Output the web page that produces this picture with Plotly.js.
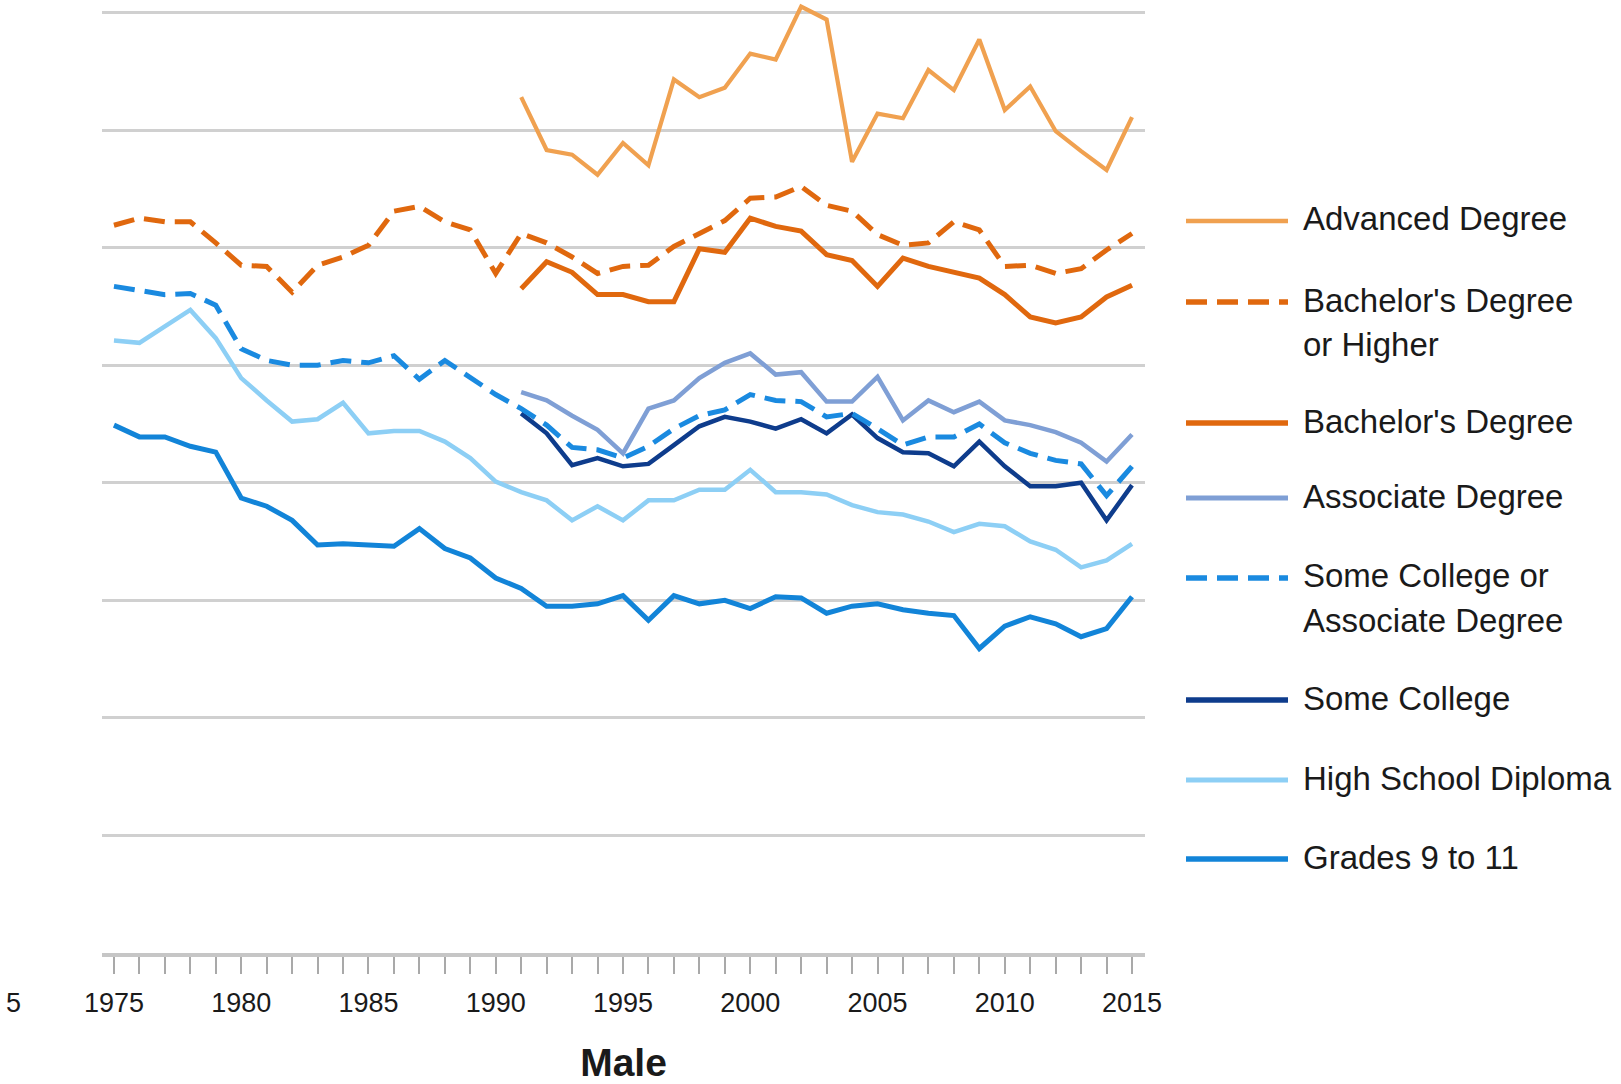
<!DOCTYPE html>
<html>
<head>
<meta charset="utf-8">
<script src="https://cdn.plot.ly/plotly-3.0.1.min.js"></script>
<style>
  html, body { margin: 0; padding: 0; background: #ffffff; }
  #chart { width: 1621px; height: 1084px; }
</style>
</head>
<body>
<div id="chart"></div>
<script>
// ---------------- DATA (median earnings, thousands) ----------------
const yearsAll = [1975,1976,1977,1978,1979,1980,1981,1982,1983,1984,1985,1986,1987,1988,1989,1990,
  1991,1992,1993,1994,1995,1996,1997,1998,1999,2000,2001,2002,2003,2004,2005,2006,2007,2008,2009,2010,
  2011,2012,2013,2014,2015];
const yearsLate = [1991,1992,1993,1994,1995,1996,1997,1998,1999,2000,2001,2002,2003,2004,2005,2006,
  2007,2008,2009,2010,2011,2012,2013,2014,2015];

const advancedDegree = [72.8,68.3,67.9,66.2,68.9,67.0,74.3,72.8,73.6,76.5,76.0,80.5,79.4,67.3,71.4,71.0,
  75.1,73.4,77.7,71.7,73.7,69.9,68.2,66.6,71.1];
const bachelorsOrHigher = [61.9,62.5,62.2,62.2,60.4,58.5,58.4,56.2,58.5,59.2,60.2,63.1,63.5,62.2,61.5,57.8,
  61.2,60.4,59.2,57.8,58.4,58.5,60.1,61.2,62.3,64.2,64.3,65.2,63.6,63.1,61.1,60.2,60.4,62.2,61.5,58.4,
  58.5,57.8,58.2,59.8,61.2];
const bachelorsDegree = [56.5,58.8,57.9,56.0,56.0,55.4,55.4,59.9,59.6,62.5,61.8,61.4,59.4,58.9,56.7,59.1,
  58.4,57.9,57.4,56.0,54.1,53.6,54.1,55.8,56.8];
const associateDegree = [47.7,47.0,45.7,44.5,42.5,46.3,47.0,48.9,50.2,51.0,49.2,49.4,46.9,46.9,49.0,45.3,
  47.0,46.0,46.9,45.3,44.9,44.3,43.4,41.8,44.1];
const someCollegeOrAssociate = [56.7,56.4,56.0,56.1,55.1,51.4,50.4,50.0,50.0,50.4,50.2,50.8,48.8,50.4,48.9,47.5,
  46.3,44.9,43.0,42.8,42.1,43.1,44.6,45.7,46.2,47.5,47.0,46.9,45.6,45.9,44.6,43.2,43.9,43.9,45.0,43.4,
  42.5,41.9,41.6,38.9,41.4];
const someCollege = [45.9,44.2,41.5,42.1,41.4,41.6,43.2,44.8,45.6,45.2,44.6,45.4,44.2,45.8,43.8,42.6,
  42.5,41.4,43.5,41.4,39.7,39.7,40.0,36.8,39.8];
const highSchoolDiploma = [52.1,51.9,53.3,54.7,52.3,48.9,47.0,45.2,45.4,46.8,44.2,44.4,44.4,43.5,42.1,40.1,
  39.2,38.5,36.8,38.0,36.8,38.5,38.5,39.4,39.4,41.1,39.2,39.2,39.0,38.1,37.5,37.3,36.7,35.8,36.5,36.3,
  35.0,34.3,32.8,33.4,34.8];
const grades9to11 = [44.9,43.9,43.9,43.1,42.6,38.7,38.0,36.8,34.7,34.8,34.7,34.6,36.1,34.4,33.6,31.9,
  31.0,29.5,29.5,29.7,30.4,28.3,30.4,29.7,30.0,29.3,30.3,30.2,28.9,29.5,29.7,29.2,28.9,28.7,25.9,27.8,
  28.6,28.0,26.9,27.6,30.3];

const tickYears = [1975,1980,1985,1990,1995,2000,2005,2010,2015];
const tickLabels = ['1975','1980','1985','1990','1995','2000','2005','2010','2015'];
const xAxisTitle = 'Male';
const neighbourLabelFragment = '5';

// ---------------- STYLE ----------------
const SANS = '"Liberation Sans", Arial, sans-serif';
const C = {
  adv: '#F0A150', boh: '#E0680E', bach: '#E0680E', assoc: '#7F9FD5',
  scoa: '#1A8AE0', sc: '#0E3C8C', hs: '#8DCFF5', g911: '#1284D8'
};
const DASH = '21px,10px';

const series = [
  {name: 'Grades 9 to 11', x: yearsAll, y: grades9to11, color: C.g911, width: 5, dash: 'solid'},
  {name: 'High School Diploma', x: yearsAll, y: highSchoolDiploma, color: C.hs, width: 4.5, dash: 'solid'},
  {name: 'Some College', x: yearsLate, y: someCollege, color: C.sc, width: 4.5, dash: 'solid'},
  {name: 'Associate Degree', x: yearsLate, y: associateDegree, color: C.assoc, width: 4.5, dash: 'solid'},
  {name: 'Some College or Associate Degree', x: yearsAll, y: someCollegeOrAssociate, color: C.scoa, width: 5, dash: DASH},
  {name: "Bachelor's Degree", x: yearsLate, y: bachelorsDegree, color: C.bach, width: 5, dash: 'solid'},
  {name: "Bachelor's Degree or Higher", x: yearsAll, y: bachelorsOrHigher, color: C.boh, width: 5, dash: DASH},
  {name: 'Advanced Degree', x: yearsLate, y: advancedDegree, color: C.adv, width: 4.2, dash: 'solid'}
];

const traces = series.map(s => ({
  type: 'scatter', mode: 'lines', name: s.name, x: s.x, y: s.y,
  line: {color: s.color, width: s.width, dash: s.dash, shape: 'linear'},
  hoverinfo: 'x+y+name'
}));

// ---------------- GEOMETRY ----------------
const W = 1621, H = 1084;
const M = {l: 102, r: 476, t: 0, b: 131};
const PW = W - M.l - M.r, PH = H - M.t - M.b;
const px2x = x => (x - M.l) / PW;
const px2y = y => (M.t + PH - y) / PH;

// Manual legend (line sample + text lines)
const legendItems = [
  {lines: ['Advanced Degree'], y: 221, color: C.adv, width: 4.5, dash: 'solid'},
  {lines: ["Bachelor's Degree", 'or Higher'], y: 302, color: C.boh, width: 5.5, dash: DASH},
  {lines: ["Bachelor's Degree"], y: 423, color: C.bach, width: 5.5, dash: 'solid'},
  {lines: ['Associate Degree'], y: 498, color: C.assoc, width: 5, dash: 'solid'},
  {lines: ['Some College or', 'Associate Degree'], y: 578, color: C.scoa, width: 5.5, dash: DASH},
  {lines: ['Some College'], y: 700, color: C.sc, width: 5.5, dash: 'solid'},
  {lines: ['High School Diploma'], y: 780, color: C.hs, width: 5, dash: 'solid'},
  {lines: ['Grades 9 to 11'], y: 859, color: C.g911, width: 5.5, dash: 'solid'}
];
const LINE_SPACING = 44;

const shapes = [];
const annotations = [];
legendItems.forEach(it => {
  shapes.push({type: 'line', xref: 'paper', yref: 'paper',
    x0: px2x(1186), x1: px2x(1288), y0: px2y(it.y), y1: px2y(it.y),
    line: {color: it.color, width: it.width, dash: it.dash}});
  it.lines.forEach((t, i) => {
    annotations.push({xref: 'paper', yref: 'paper', x: px2x(1301), y: px2y(it.y - 2 + i * LINE_SPACING),
      xanchor: 'left', yanchor: 'middle', showarrow: false, text: t, align: 'left',
      font: {family: SANS, size: 33, color: '#1a1a1a'}});
  });
});
// Fragment of the neighbouring panel's last tick label at the page edge
annotations.push({xref: 'paper', yref: 'paper', x: px2x(23), y: px2y(1003),
  xanchor: 'right', yanchor: 'middle', showarrow: false, text: neighbourLabelFragment,
  font: {family: SANS, size: 27, color: '#1a1a1a'}});

const layout = {
  width: W, height: H,
  margin: {l: M.l, r: M.r, t: M.t, b: M.b, pad: 0},
  paper_bgcolor: '#ffffff', plot_bgcolor: '#ffffff',
  showlegend: false,
  xaxis: {
    range: [1974.53, 2015.51], tickmode: 'array', tickvals: tickYears, ticktext: tickLabels,
    ticks: 'outside', ticklen: 17, tickwidth: 2, tickcolor: '#a9a9a9',
    minor: {tick0: 1975, dtick: 1, ticks: 'outside', ticklen: 17, tickwidth: 2, tickcolor: '#a9a9a9', showgrid: false},
    showgrid: false, zeroline: false, showline: true, linecolor: '#c6c6c6', linewidth: 4,
    tickfont: {family: SANS, size: 27, color: '#1a1a1a'},
    ticklabelstandoff: 6,
    title: {text: xAxisTitle, font: {family: SANS, size: 39, color: '#1a1a1a', weight: 'bold'}, standoff: 32},
    automargin: false, fixedrange: true
  },
  yaxis: {
    range: [0, 81.06], tick0: 0, dtick: 10, showgrid: true, gridcolor: '#d0d0d0', gridwidth: 3,
    showticklabels: false, ticks: '', zeroline: false, showline: false, automargin: false, fixedrange: true
  },
  shapes: shapes,
  annotations: annotations
};

Plotly.newPlot('chart', traces, layout, {displayModeBar: false, staticPlot: true});
</script>
</body>
</html>
